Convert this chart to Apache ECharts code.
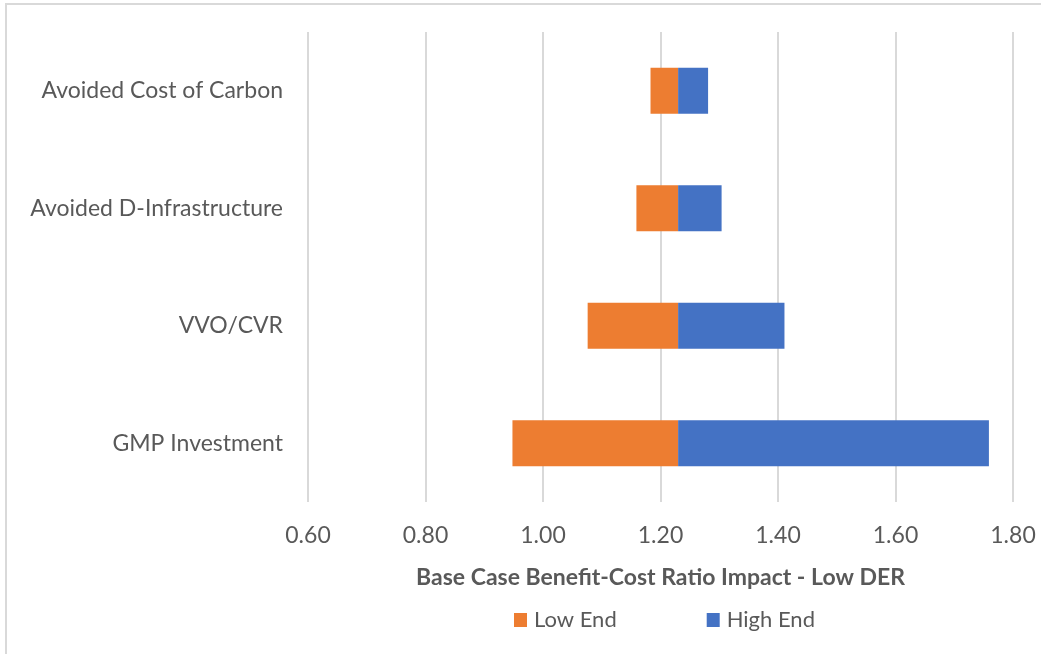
<!DOCTYPE html>
<html>
<head>
<meta charset="utf-8">
<script src="https://cdn.jsdelivr.net/npm/echarts@6/dist/echarts.min.js"></script>
<style>
  html, body { margin: 0; padding: 0; background: #fff; }
  #frame { position: absolute; left: 5px; top: 3px; width: 1036px; height: 651px;
           border-left: 2px solid #d9d9d9; border-top: 2px solid #d9d9d9; box-sizing: border-box; }
  #chart { position: absolute; left: 0; top: 0; width: 1041px; height: 654px; }
</style>
</head>
<body>
<div id="frame"></div>
<div id="chart"></div>
<script>
// Sensitivity drivers, bottom to top on the category axis
const categories = ['GMP Investment', 'VVO/CVR', 'Avoided D-Infrastructure', 'Avoided Cost of Carbon'];
// Base case benefit-cost ratio
const baseRatio = 1.23;
// Ratio at the low and high end of each driver's range
const lowEnd = [0.948, 1.076, 1.159, 1.183];
const highEnd = [1.759, 1.411, 1.304, 1.281];
const xTicks = { min: 0.6, max: 1.8, interval: 0.2 };

const font = 'Lato, "Open Sans", sans-serif';

const chart = echarts.init(document.getElementById('chart'), null, { renderer: 'canvas' });
chart.setOption({
  animation: false,
  grid: { left: 308, right: 28, top: 32, bottom: 152 },
  legend: {
    data: ['Low End', 'High End'],
    top: 604,
    left: 509,
    itemWidth: 13, itemHeight: 14, itemGap: 90,
    textStyle: { color: '#595959', fontSize: 22, fontFamily: font, padding: [0, 0, 0, 2] },
    icon: 'rect'
  },
  xAxis: {
    type: 'value',
    min: xTicks.min, max: xTicks.max, interval: xTicks.interval,
    axisLine: { show: false }, axisTick: { show: false },
    splitLine: { lineStyle: { color: '#d9d9d9', width: 2 } },
    axisLabel: { color: '#595959', fontSize: 23, fontFamily: font, margin: 22,
                 formatter: v => v.toFixed(2) },
    name: 'Base Case Benefit-Cost Ratio Impact - Low DER',
    nameLocation: 'middle', nameGap: 64,
    nameTextStyle: { color: '#595959', fontSize: 23, fontWeight: 'bold', fontFamily: font }
  },
  yAxis: {
    type: 'category', data: categories,
    axisLine: { show: false }, axisTick: { show: false },
    axisLabel: { color: '#595959', fontSize: 23, fontFamily: font, margin: 25 }
  },
  series: [
    {
      name: 'offset', type: 'bar', stack: 'tornado', silent: true,
      barWidth: 46,
      itemStyle: { color: 'rgba(0,0,0,0)' },
      data: lowEnd
    },
    {
      name: 'Low End', type: 'bar', stack: 'tornado', barWidth: 46,
      itemStyle: { color: '#ed7d31' },
      data: lowEnd.map(v => +(baseRatio - v).toFixed(4))
    },
    {
      name: 'High End', type: 'bar', stack: 'tornado', barWidth: 46,
      itemStyle: { color: '#4472c4' },
      data: highEnd.map(v => +(v - baseRatio).toFixed(4))
    }
  ]
});
</script>
</body>
</html>
